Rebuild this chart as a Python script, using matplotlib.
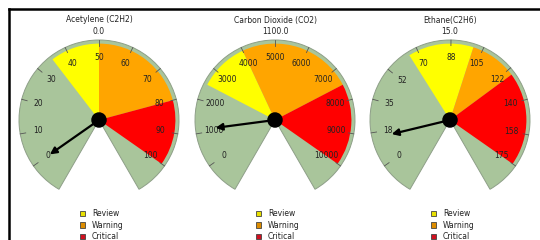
import numpy as np
import matplotlib
matplotlib.use("Agg")
import matplotlib.pyplot as plt
from matplotlib.patches import Wedge, Circle, Patch
from matplotlib.lines import Line2D

# gauge data
names = ["Acetylene (C2H2)", "Carbon Dioxide (CO2)", "Ethane(C2H6)"]
values = [0.0, 1100.0, 15.0]
max_vals = [100, 10000, 175]
tick_labels = [
    [0, 10, 20, 30, 40, 50, 60, 70, 80, 90, 100],
    [0, 1000, 2000, 3000, 4000, 5000, 6000, 7000, 8000, 9000, 10000],
    [0, 18, 35, 52, 70, 88, 105, 122, 140, 158, 175],
]
review = [35, 2500, 65]
warning = [50, 4000, 100]
critical = [80, 7500, 125]
zone_names = ["Review", "Warning", "Critical"]

GREEN = "#a9c59b"
ZONE_COLORS = ["#ffff00", "#ffa500", "#ff0000"]
LEG_COLORS = ["#e8e000", "#dd8c00", "#d01020"]
TXT = "#222222"
fs = 5.5

# angles: scale runs 215 deg (min) -> -35 deg (max), background 240 -> -60
A0, A1 = 215.0, -35.0


def ang(v, vmax):
    return A0 + (A1 - A0) * v / vmax


fig = plt.figure(figsize=(5.4, 2.4), dpi=100)
W, H = 540.0, 240.0
R = 80.0  # px for radius 1
centers_px = [99, 275, 450]

for i in range(3):
    cx = centers_px[i]
    ax = fig.add_axes([(cx - 90) / W, 0, 180 / W, 1])
    ax.set_xlim(-90 / R, 90 / R)
    ax.set_ylim(-120 / R, 120 / R)
    ax.axis("off")
    vmax = max_vals[i]

    ax.add_patch(Wedge((0, 0), 1.0, -60, 240, facecolor=GREEN,
                       edgecolor="#8e9f88", lw=0.7, zorder=1))
    bounds = [review[i], warning[i], critical[i], vmax]
    for k in range(3):
        t1 = ang(bounds[k + 1], vmax)
        t2 = ang(bounds[k], vmax)
        ax.add_patch(Wedge((0, 0), 0.955, t1, t2, facecolor=ZONE_COLORS[k],
                           edgecolor="none", zorder=2))

    for t in tick_labels[i]:
        a = np.radians(ang(t, vmax))
        ax.plot([0.93 * np.cos(a), 1.0 * np.cos(a)],
                [0.93 * np.sin(a), 1.0 * np.sin(a)],
                color="#555555", lw=0.6, zorder=3)
        ax.text(0.78 * np.cos(a), 0.78 * np.sin(a), str(t), fontsize=fs,
                color=TXT, ha="center", va="center", zorder=4)

    a = np.radians(ang(values[i], vmax))
    ax.annotate("", xy=(0.75 * np.cos(a), 0.75 * np.sin(a)), xytext=(0, 0),
                arrowprops=dict(arrowstyle="-|>", color="black", lw=1.6,
                                mutation_scale=10, shrinkA=0, shrinkB=0),
                zorder=5)
    ax.add_patch(Circle((0, 0), 0.088, color="black", zorder=6))

    ax.text(0, 100 / R, names[i], fontsize=fs, color=TXT, ha="center", va="center")
    ax.text(0, 89 / R, "%.1f" % values[i], fontsize=fs, color=TXT, ha="center", va="center")

    handles = [Patch(facecolor=LEG_COLORS[k], edgecolor="#444444", lw=0.6)
               for k in range(3)]
    ax.legend(handles, zone_names, loc="upper center",
              bbox_to_anchor=(0.515, 0.145), frameon=False, fontsize=fs,
              handlelength=0.7, handleheight=0.7, handletextpad=0.9,
              labelspacing=0.35, borderpad=0, labelcolor=TXT)

# frame lines (top and left)
fig.add_artist(Line2D([9 / W, 1], [1 - 9 / H, 1 - 9 / H], color="black", lw=1.8))
fig.add_artist(Line2D([9 / W, 9 / W], [0, 1 - 9 / H], color="black", lw=1.8))

fig.savefig("out.png", dpi=100)
